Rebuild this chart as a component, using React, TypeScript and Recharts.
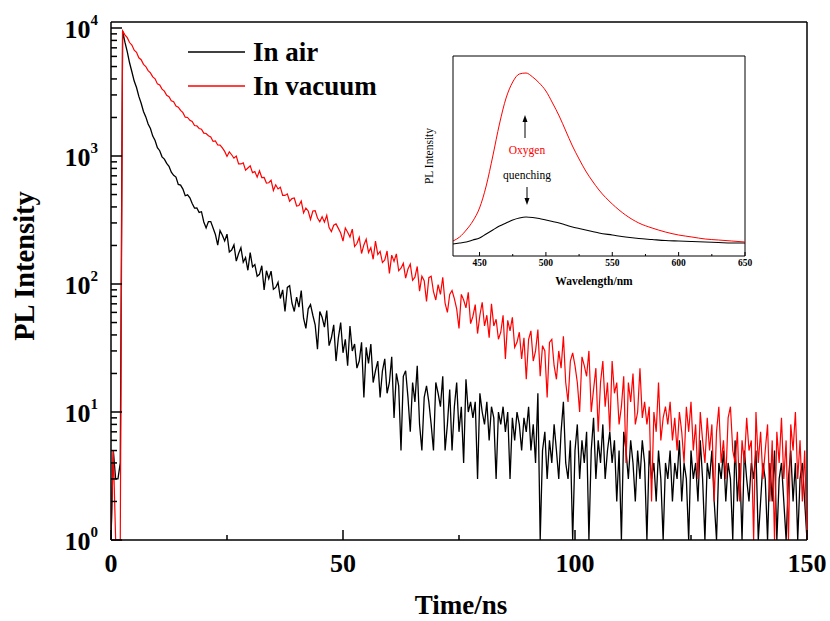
import React from "react"
import { LineChart, Line, XAxis, YAxis, ReferenceLine } from "recharts"

// time-resolved PL decay, counts per 0.5 ns channel
const times = [
  0, 0.5, 1, 1.5, 2, 2.5, 3, 3.5, 4, 4.5, 5, 5.5,
  6, 6.5, 7, 7.5, 8, 8.5, 9, 9.5, 10, 10.5, 11, 11.5,
  12, 12.5, 13, 13.5, 14, 14.5, 15, 15.5, 16, 16.5, 17, 17.5,
  18, 18.5, 19, 19.5, 20, 20.5, 21, 21.5, 22, 22.5, 23, 23.5,
  24, 24.5, 25, 25.5, 26, 26.5, 27, 27.5, 28, 28.5, 29, 29.5,
  30, 30.5, 31, 31.5, 32, 32.5, 33, 33.5, 34, 34.5, 35, 35.5,
  36, 36.5, 37, 37.5, 38, 38.5, 39, 39.5, 40, 40.5, 41, 41.5,
  42, 42.5, 43, 43.5, 44, 44.5, 45, 45.5, 46, 46.5, 47, 47.5,
  48, 48.5, 49, 49.5, 50, 50.5, 51, 51.5, 52, 52.5, 53, 53.5,
  54, 54.5, 55, 55.5, 56, 56.5, 57, 57.5, 58, 58.5, 59, 59.5,
  60, 60.5, 61, 61.5, 62, 62.5, 63, 63.5, 64, 64.5, 65, 65.5,
  66, 66.5, 67, 67.5, 68, 68.5, 69, 69.5, 70, 70.5, 71, 71.5,
  72, 72.5, 73, 73.5, 74, 74.5, 75, 75.5, 76, 76.5, 77, 77.5,
  78, 78.5, 79, 79.5, 80, 80.5, 81, 81.5, 82, 82.5, 83, 83.5,
  84, 84.5, 85, 85.5, 86, 86.5, 87, 87.5, 88, 88.5, 89, 89.5,
  90, 90.5, 91, 91.5, 92, 92.5, 93, 93.5, 94, 94.5, 95, 95.5,
  96, 96.5, 97, 97.5, 98, 98.5, 99, 99.5, 100, 100.5, 101, 101.5,
  102, 102.5, 103, 103.5, 104, 104.5, 105, 105.5, 106, 106.5, 107, 107.5,
  108, 108.5, 109, 109.5, 110, 110.5, 111, 111.5, 112, 112.5, 113, 113.5,
  114, 114.5, 115, 115.5, 116, 116.5, 117, 117.5, 118, 118.5, 119, 119.5,
  120, 120.5, 121, 121.5, 122, 122.5, 123, 123.5, 124, 124.5, 125, 125.5,
  126, 126.5, 127, 127.5, 128, 128.5, 129, 129.5, 130, 130.5, 131, 131.5,
  132, 132.5, 133, 133.5, 134, 134.5, 135, 135.5, 136, 136.5, 137, 137.5,
  138, 138.5, 139, 139.5, 140, 140.5, 141, 141.5, 142, 142.5, 143, 143.5,
  144, 144.5, 145, 145.5, 146, 146.5, 147, 147.5, 148, 148.5, 149, 149.5,
  150,
]

const airCounts = [
  1, 5, 3, 3, 4, 9500, 7750, 6550, 5350, 4550, 3850, 3430,
  2920, 2580, 2230, 2020, 1780, 1640, 1430, 1320, 1160, 1100, 985, 945,
  875, 830, 748, 707, 685, 599, 592, 551, 489, 497, 472, 425,
  392, 393, 362, 367, 305, 274, 307, 307, 274, 244, 201, 261,
  240, 217, 245, 178, 184, 202, 151, 173, 192, 148, 161, 128,
  176, 136, 142, 115, 119, 139, 90, 127, 110, 126, 91, 94,
  103, 77, 90, 61, 94, 97, 71, 61, 79, 66, 89, 54,
  45, 64, 69, 57, 48, 31, 61, 55, 46, 62, 33, 38,
  48, 25, 38, 50, 29, 37, 23, 47, 30, 34, 22, 25,
  35, 13, 32, 24, 34, 17, 21, 25, 13, 21, 26, 14,
  17, 27, 9, 20, 16, 5, 19, 21, 13, 7, 17, 12,
  23, 8, 5, 13, 16, 12, 8, 5, 17, 14, 11, 19,
  5, 8, 15, 5, 11, 17, 7, 11, 4, 18, 10, 12,
  9, 12, 3, 14, 10, 8, 12, 6, 11, 9, 3, 10,
  8, 11, 7, 10, 3, 9, 6, 10, 8, 5, 9, 7,
  11, 5, 8, 4, 14, 1, 5, 7, 3, 6, 4, 8,
  5, 3, 7, 12, 4, 3, 6, 1, 5, 8, 3, 6,
  4, 7, 1, 5, 9, 3, 6, 4, 8, 3, 5, 7,
  4, 6, 2, 5, 1, 7, 5, 3, 6, 4, 2, 5,
  3, 6, 4, 1, 5, 3, 4, 2, 5, 3, 1, 4,
  3, 5, 2, 4, 3, 6, 2, 4, 3, 1, 5, 3,
  4, 2, 6, 3, 1, 4, 3, 5, 2, 1, 4, 3,
  5, 2, 4, 3, 1, 6, 2, 4, 1, 5, 3, 2,
  4, 3, 5, 1, 2, 4, 3, 1, 4, 2, 5, 1,
  3, 4, 2, 1, 3, 5, 2, 4, 1, 3, 4, 2,
  1,
]

const vacuumCounts = [
  1, 5, 1, 1, 1, 9500, 8850, 8400, 7700, 7350, 6700, 6450,
  5850, 5650, 5200, 5000, 4650, 4460, 4150, 4010, 3660, 3590, 3330, 3210,
  2980, 2910, 2700, 2650, 2460, 2410, 2270, 2180, 2010, 2000, 1900, 1860,
  1730, 1720, 1640, 1620, 1510, 1500, 1440, 1410, 1300, 1310, 1220, 1215,
  1158, 1086, 992, 1078, 1023, 961, 997, 867, 867, 883, 775, 805,
  837, 742, 755, 683, 766, 679, 680, 615, 618, 646, 538, 596,
  553, 571, 493, 492, 506, 443, 465, 470, 407, 410, 444, 359,
  392, 372, 319, 372, 374, 328, 306, 335, 304, 344, 276, 257,
  288, 295, 272, 250, 216, 274, 254, 233, 268, 196, 207, 231,
  173, 202, 224, 176, 192, 156, 216, 170, 180, 147, 154, 181,
  121, 168, 150, 172, 127, 133, 145, 111, 131, 143, 107, 113,
  137, 88, 115, 106, 73, 112, 115, 87, 75, 99, 83, 113,
  71, 60, 83, 89, 77, 64, 45, 83, 75, 65, 86, 49,
  56, 69, 41, 57, 72, 47, 57, 38, 70, 47, 53, 37,
  42, 57, 26, 52, 43, 55, 32, 35, 42, 26, 38, 18,
  37, 43, 25, 30, 44, 19, 33, 30, 13, 35, 37, 23,
  18, 30, 22, 39, 17, 12, 25, 29, 23, 17, 10, 27,
  23, 19, 30, 10, 15, 22, 7, 17, 25, 11, 17, 7,
  25, 14, 17, 8, 11, 19, 4, 17, 12, 20, 8, 10,
  22, 9, 12, 8, 11, 2, 10, 7, 17, 6, 9, 11,
  8, 12, 6, 9, 5, 10, 7, 4, 11, 7, 12, 5,
  8, 3, 10, 6, 4, 9, 5, 8, 2, 7, 11, 4,
  6, 3, 9, 11, 5, 4, 7, 2, 6, 4, 9, 5,
  6, 1, 10, 4, 7, 3, 5, 8, 2, 6, 1, 7,
  4, 9, 3, 6, 1, 8, 5, 10, 3, 6, 2, 5,
  1,
]

const xTicks = [0, 25, 50, 75, 100, 125, 150]
const yTicks = [
  1, 2, 3, 4, 5, 6, 7, 8, 9,
  10, 20, 30, 40, 50, 60, 70, 80, 90,
  100, 200, 300, 400, 500, 600, 700, 800, 900,
  1000, 2000, 3000, 4000, 5000, 6000, 7000, 8000, 9000,
  10000,
]

// inset: steady-state PL spectra (arb. units)
const wavelengths = [
  430, 435, 440, 445, 450, 455, 460, 465, 470, 475, 480, 485, 490, 495, 500, 505, 510, 515, 520, 525, 530, 535, 540,
  550, 560, 570, 580, 590, 600, 610, 620, 630, 640, 650,
]
const airSpectrum = [
  12, 13, 14, 16, 18, 22, 26, 30, 33, 36, 38, 39, 38.5, 37.5, 36, 34.5, 33, 31, 29, 27.5, 26, 24.5, 23,
  21, 19, 17.5, 16.5, 15.5, 15, 14.5, 14, 13.5, 13, 13,
]
const vacuumSpectrum = [
  15, 19, 26, 35, 48, 70, 100, 132, 158, 174, 182, 183, 179, 173, 165, 153, 140, 125, 110, 97, 85, 75, 66,
  52, 41, 33, 28, 24, 21, 19, 17, 16, 15, 14,
]
const insetTicks = [450, 475, 500, 525, 550, 575, 600, 625, 650]

const FONT = '"Liberation Serif", "Times New Roman", serif'
const PLOT_LEFT = 111
const PLOT_BOTTOM = 540
const INSET_BOTTOM = 216

const mainData = times.map((t, i) => ({ t, air: airCounts[i], vacuum: vacuumCounts[i] }))
const insetData = wavelengths.map((nm, i) => ({ nm, air: airSpectrum[i], vacuum: vacuumSpectrum[i] }))

function XTick(props: any) {
  const { x, payload } = props
  const major = payload.value % 50 === 0
  return (
    <g>
      <line x1={x} x2={x} y1={PLOT_BOTTOM} y2={PLOT_BOTTOM - (major ? 10 : 5)} stroke="#000" strokeWidth={1.5} />
      {major && (
        <text x={x} y={572} textAnchor="middle" fontFamily={FONT} fontWeight="bold" fontSize={26} fill="#000">
          {payload.value}
        </text>
      )}
    </g>
  )
}

function YTick(props: any) {
  const { y, payload } = props
  const e = Math.log10(payload.value)
  const major = Math.abs(e - Math.round(e)) < 1e-6
  return (
    <g>
      <line x1={PLOT_LEFT} x2={PLOT_LEFT + (major ? 11 : 6)} y1={y} y2={y} stroke="#000" strokeWidth={1.5} />
      {major && (
        <text x={98} y={y + 10} textAnchor="end" fontFamily={FONT} fontWeight="bold" fontSize={26} fill="#000">
          10
          <tspan dy={-13} fontSize={15}>{Math.round(e)}</tspan>
        </text>
      )}
    </g>
  )
}

function InsetTick(props: any) {
  const { x, payload } = props
  const major = payload.value % 50 === 0
  return (
    <g>
      <line x1={x} x2={x} y1={INSET_BOTTOM} y2={INSET_BOTTOM - (major ? 4 : 2)} stroke="#000" />
      {major && (
        <text x={x} y={INSET_BOTTOM + 10} textAnchor="middle" fontFamily={FONT} fontWeight="bold" fontSize={9.5} fill="#000">
          {payload.value}
        </text>
      )}
    </g>
  )
}

export default function App() {
  return (
    <div style={{ position: "absolute", left: 0, top: 0, width: 830, height: 621, background: "#fff" }}>
      <LineChart width={830} height={621} data={mainData} margin={{ top: 22, right: 23, bottom: 0, left: 0 }}>
        <XAxis
          dataKey="t"
          type="number"
          domain={[0, 150]}
          ticks={xTicks}
          interval={0}
          height={81}
          tick={XTick}
          tickLine={false}
          axisLine={{ stroke: "#000", strokeWidth: 1.5 }}
          allowDataOverflow
        />
        <YAxis
          type="number"
          scale="log"
          domain={[1, 11140]}
          ticks={yTicks}
          interval={0}
          width={111}
          tick={YTick}
          tickLine={false}
          axisLine={{ stroke: "#000", strokeWidth: 1.5 }}
          allowDataOverflow
        />
        <ReferenceLine x={150} stroke="#000" strokeWidth={1.5} />
        <ReferenceLine y={11140} stroke="#000" strokeWidth={1.5} />
        <Line type="linear" dataKey="air" stroke="#000" strokeWidth={1.3} dot={false} isAnimationActive={false} />
        <Line type="linear" dataKey="vacuum" stroke="#ff0000" strokeWidth={1.2} dot={false} isAnimationActive={false} />
      </LineChart>

      <div style={{ position: "absolute", left: 400, top: 40 }}>
        <LineChart width={360} height={260} data={insetData} margin={{ top: 16, right: 15, bottom: 0, left: 0 }}>
          <XAxis
            dataKey="nm"
            type="number"
            domain={[430, 650]}
            ticks={insetTicks}
            interval={0}
            height={44}
            tick={InsetTick}
            tickLine={false}
            axisLine={{ stroke: "#000" }}
          />
          <YAxis type="number" domain={[0, 200]} width={53} tick={false} tickLine={false} axisLine={{ stroke: "#000" }} />
          <ReferenceLine x={650} stroke="#000" />
          <ReferenceLine y={200} stroke="#000" />
          <Line type="monotone" dataKey="air" stroke="#000" strokeWidth={1.1} dot={false} isAnimationActive={false} />
          <Line type="monotone" dataKey="vacuum" stroke="#ff0000" strokeWidth={1} dot={false} isAnimationActive={false} />
        </LineChart>
      </div>

      <svg width={830} height={621} style={{ position: "absolute", left: 0, top: 0, pointerEvents: "none" }}>
        {/* legend */}
        <line x1={188} x2={245} y1={52} y2={52} stroke="#000" strokeWidth={1.5} />
        <text x={253} y={61} fontFamily={FONT} fontWeight="bold" fontSize={27} fill="#000">In air</text>
        <line x1={188} x2={245} y1={86} y2={86} stroke="#ff0000" strokeWidth={1.5} />
        <text x={253} y={95} fontFamily={FONT} fontWeight="bold" fontSize={27} fill="#000">In vacuum</text>

        {/* axis titles */}
        <text x={461} y={614} textAnchor="middle" fontFamily={FONT} fontWeight="bold" fontSize={27} fill="#000">Time/ns</text>
        <text transform="translate(34,266) rotate(-90)" textAnchor="middle" fontFamily={FONT} fontWeight="bold" fontSize={28.5} fill="#000">
          PL Intensity
        </text>

        {/* inset titles and notes */}
        <text x={594} y={285} textAnchor="middle" fontFamily={FONT} fontWeight="bold" fontSize={11.5} fill="#000">Wavelength/nm</text>
        <text transform="translate(433,156) rotate(-90)" textAnchor="middle" fontFamily={FONT} fontSize={11.5} fill="#000">
          PL Intensity
        </text>
        <text x={527} y={154} textAnchor="middle" fontFamily={FONT} fontSize={11.5} fill="#ff0000">Oxygen</text>
        <text x={527} y={179} textAnchor="middle" fontFamily={FONT} fontSize={11.5} fill="#000">quenching</text>
        <line x1={525} x2={525} y1={138} y2={121} stroke="#000" strokeWidth={1} />
        <polygon points="522.5,122 527.5,122 525,115" fill="#000" />
        <line x1={527} x2={527} y1={187} y2={199} stroke="#000" strokeWidth={1} />
        <polygon points="524.5,198 529.5,198 527,205" fill="#000" />
      </svg>
    </div>
  )
}
